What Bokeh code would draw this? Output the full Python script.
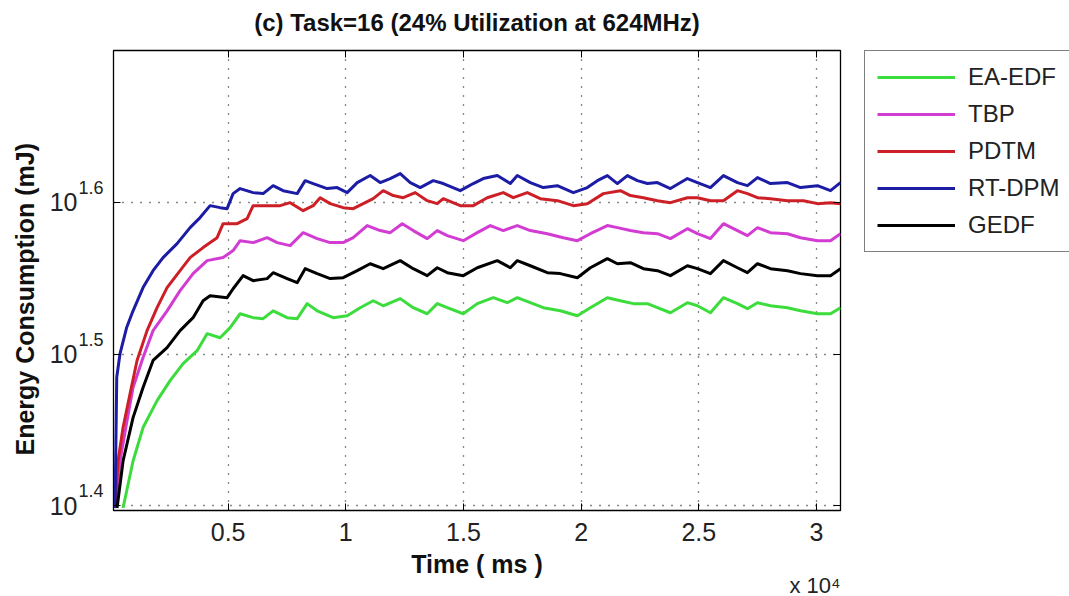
import math
from bokeh.plotting import figure
from bokeh.layouts import row
from bokeh.models import (Range1d, FixedTicker, LinearAxis, LogAxis, Legend, LegendItem,
                          Title, LogScale, CustomJSTickFormatter)
from bokeh.embed import file_html
from bokeh.resources import INLINE

# ---------------- data (time in ms, energy in mJ) ----------------
ea_edf_t = [536, 961, 1386, 1981, 2534, 3087, 3682, 4107, 4660, 5085, 5510, 6063, 6488, 6913, 7508,
            7934, 8359, 8784, 9464, 10059, 10612, 11165, 11590, 12313, 12865, 13460, 13886, 14311,
            14991, 15587, 16267, 16862, 17287, 17840, 18393, 19116, 19839, 20391, 21114, 21667,
            22220, 22815, 23240, 23793, 24515, 24941, 25493, 26046, 26641, 27066, 27492, 28044,
            28767, 29320, 30042, 30595, 31020]
ea_edf_e = [25.04, 26.89, 28.29, 29.47, 30.38, 31.17, 31.79, 32.62, 32.42, 32.92, 33.62, 33.42, 33.37,
            33.77, 33.42, 33.37, 34.14, 33.77, 33.42, 33.52, 33.93, 34.29, 34.03, 34.40, 33.93, 33.62,
            34.14, 33.93, 33.62, 34.14, 34.45, 34.19, 34.45, 34.19, 33.93, 33.77, 33.52, 33.93, 34.45,
            34.29, 34.14, 34.14, 33.93, 33.67, 34.19, 34.03, 33.67, 34.45, 34.14, 33.88, 34.19, 34.03,
            33.93, 33.77, 33.62, 33.62, 33.93]

tbp_t = [196, 408, 706, 961, 1386, 1811, 2406, 2959, 3512, 4107, 4787, 5212, 5510, 6063, 6658, 7083,
         7636, 8189, 8784, 9337, 9889, 10315, 10910, 11462, 11888, 12398, 12865, 13460, 13886, 14311,
         14991, 15587, 16139, 16692, 17287, 17840, 18563, 19243, 19839, 20391, 21114, 21539, 22092,
         22645, 23240, 23793, 24515, 24941, 25493, 26046, 26641, 27066, 27492, 28044, 28767, 29320,
         30042, 30595, 31020]
tbp_e = [25.04, 26.89, 28.59, 30.06, 31.46, 32.77, 33.77, 34.82, 35.73, 36.44, 36.61, 37.00, 37.56,
         37.45, 37.73, 37.45, 37.28, 38.02, 37.68, 37.45, 37.45, 37.73, 38.43, 38.14, 38.02, 38.54,
         38.14, 37.68, 38.14, 37.85, 37.56, 38.02, 38.43, 38.14, 38.43, 38.14, 37.96, 37.73, 37.56,
         37.96, 38.43, 38.31, 38.14, 38.02, 37.96, 37.68, 38.25, 37.96, 37.68, 38.54, 38.14, 37.85,
         38.31, 38.02, 37.96, 37.73, 37.56, 37.56, 37.96]

pdtm_t = [196, 323, 536, 833, 1131, 1556, 1981, 2406, 2959, 3384, 3937, 4532, 4787, 5382, 5808, 6063,
          6658, 7211, 7636, 8189, 8614, 8911, 9337, 9889, 10315, 10740, 11165, 11590, 12015, 12440,
          12950, 13460, 13886, 14141, 14864, 15417, 16012, 16692, 17117, 17713, 18265, 18988, 19669,
          20264, 20944, 21667, 22092, 22645, 23240, 23793, 24515, 24941, 25493, 26046, 26641, 27066,
          27492, 28044, 28767, 29447, 30042, 30595, 31020]
pdtm_e = [25.04, 26.89, 28.29, 29.78, 31.32, 32.77, 33.93, 34.98, 35.89, 36.61, 37.17, 37.73, 38.54,
          38.54, 38.84, 39.61, 39.61, 39.61, 39.79, 39.31, 39.61, 40.09, 39.73, 39.49, 39.43, 39.73,
          40.03, 40.52, 40.22, 40.09, 40.40, 39.91, 39.73, 40.03, 39.61, 39.61, 40.09, 40.40, 40.09,
          40.40, 40.03, 39.91, 39.61, 39.73, 40.34, 40.52, 40.22, 40.09, 39.91, 39.79, 40.09, 40.09,
          39.91, 39.91, 40.52, 40.34, 40.09, 40.03, 39.91, 39.91, 39.73, 39.79, 39.73]

rtdpm_t = [196, 268, 408, 693, 961, 1386, 1811, 2236, 2832, 3384, 3809, 4234, 4660, 4957, 5212, 5510,
           6063, 6488, 6913, 7338, 7934, 8274, 8614, 9209, 9634, 10059, 10485, 11037, 11462, 11888,
           12313, 12738, 13163, 13716, 14141, 14864, 15417, 15842, 16437, 16990, 17287, 17840, 18393,
           18988, 19669, 20264, 20689, 21114, 21539, 21964, 22390, 22815, 23240, 23793, 24515, 24941,
           25493, 26046, 26641, 27066, 27492, 28044, 28767, 29320, 30042, 30595, 31020]
rtdpm_e = [25.04, 30.53, 31.65, 32.94, 33.77, 34.98, 35.89, 36.61, 37.39, 38.31, 38.90, 39.61, 39.49,
           39.43, 40.34, 40.65, 40.40, 40.34, 40.83, 40.52, 40.34, 41.14, 40.96, 40.65, 40.71, 40.40,
           41.02, 41.46, 41.02, 41.27, 41.58, 41.02, 40.71, 41.14, 40.96, 40.52, 40.96, 41.27, 41.46,
           40.96, 41.46, 41.02, 40.71, 40.83, 40.40, 40.71, 41.14, 41.46, 40.96, 41.46, 41.14, 40.96,
           41.02, 40.65, 41.27, 41.02, 40.71, 41.46, 41.02, 40.83, 41.33, 40.96, 41.02, 40.71, 40.83,
           40.52, 41.02]

gedf_t = [281, 536, 961, 1386, 1811, 2406, 2959, 3512, 3937, 4234, 4957, 5212, 5638, 6063, 6658, 6913,
          7508, 7934, 8274, 8784, 9337, 9889, 10485, 11037, 11590, 12313, 12865, 13460, 13886, 14311,
          14991, 15587, 16437, 16990, 17287, 17840, 18563, 19116, 19839, 20391, 21114, 21539, 22092,
          22645, 23240, 23793, 24515, 24941, 25493, 26046, 26641, 27066, 27492, 28044, 28767, 29320,
          30042, 30595, 31020]
gedf_e = [25.04, 26.89, 28.72, 30.06, 31.32, 31.94, 32.77, 33.42, 34.29, 34.55, 34.45, 34.92, 35.62,
          35.35, 35.46, 35.78, 35.46, 35.24, 36.00, 35.73, 35.46, 35.51, 35.89, 36.27, 36.00, 36.44,
          36.00, 35.62, 36.05, 35.78, 35.62, 36.05, 36.44, 36.05, 36.44, 36.16, 35.78, 35.73, 35.51,
          36.05, 36.55, 36.27, 36.33, 36.00, 35.89, 35.62, 36.16, 36.00, 35.73, 36.44, 36.05, 35.78,
          36.27, 36.00, 35.89, 35.73, 35.62, 35.62, 36.00]

series_names = ["EA-EDF", "TBP", "PDTM", "RT-DPM", "GEDF"]
series_colors = ["#3ddc3d", "#d23cd2", "#cc1f26", "#1c1ca4", "#000000"]

x_tick_values = [5000, 10000, 15000, 20000, 25000, 30000]
x_tick_labels = ["0.5", "1", "1.5", "2", "2.5", "3"]
y_tick_exponents = [1.4, 1.5, 1.6]

title_text = "(c) Task=16 (24% Utilization at 624MHz)"
x_label = "Time ( ms )"
x_multiplier = "x 10\u2074"
y_label = "Energy Consumption (mJ)"

x_lo, x_hi = 130, 31020
ylog_lo, ylog_hi = 1.397, 1.7
y_lo, y_hi = 10 ** ylog_lo, 10 ** ylog_hi

FONT = "Liberation Sans"
TXT = "#222222"

p = figure(width=842, height=596, y_axis_type="log",
           x_range=Range1d(x_lo, x_hi), y_range=Range1d(y_lo, y_hi),
           output_backend="svg", toolbar_location=None,
           min_border_left=113, min_border_right=2, min_border_top=50, min_border_bottom=86)
p.background_fill_color = "white"
p.border_fill_color = "white"
p.outline_line_color = "black"
p.outline_line_width = 1.3

y_ticks = [10 ** e for e in y_tick_exponents]
blank = CustomJSTickFormatter(code="return ''")

# ---- bottom axis ----
xa = p.xaxis[0]
xa.ticker = FixedTicker(ticks=x_tick_values)
xa.major_label_overrides = {v: s for v, s in zip(x_tick_values, x_tick_labels)}
xa.major_label_text_font = FONT
xa.major_label_text_font_size = "25px"
xa.major_label_text_color = TXT
xa.major_label_standoff = 12
xa.major_tick_in = 7
xa.major_tick_out = 0
xa.minor_tick_line_color = None
xa.axis_line_color = "black"
xa.axis_label = x_label
xa.axis_label_text_font = FONT
xa.axis_label_text_font_size = "25px"
xa.axis_label_text_font_style = "bold"
xa.axis_label_text_color = "#111111"
xa.axis_label_standoff = 6

mult = Title(text=x_multiplier, align="right", offset=0, standoff=-20,
             text_font=FONT, text_font_size="22px", text_font_style="normal", text_color=TXT)
p.add_layout(mult, "below")

# ---- left axis (ticks only) ----
ya = p.yaxis[0]
ya.ticker = FixedTicker(ticks=y_ticks)
ya.formatter = blank
ya.major_label_standoff = 0
ya.major_tick_in = 7
ya.major_tick_out = 0
ya.minor_tick_line_color = None
ya.axis_line_color = "black"

# superscript exponents (range shifted so labels sit raised)
shift = 15 / 1518
p.extra_y_ranges = {"sup": Range1d(10 ** (ylog_lo - shift), 10 ** (ylog_hi - shift))}
p.extra_y_scales = {"sup": LogScale()}
sup_ax = LogAxis(y_range_name="sup", ticker=FixedTicker(ticks=y_ticks),
                 formatter=CustomJSTickFormatter(code="return Math.log10(tick).toFixed(1)"),
                 major_tick_line_color=None, minor_tick_line_color=None, axis_line_color=None,
                 major_label_standoff=4, major_label_text_font=FONT,
                 major_label_text_font_size="18px", major_label_text_color=TXT)
p.add_layout(sup_ax, "left")
base_ax = LogAxis(ticker=FixedTicker(ticks=y_ticks),
                  formatter=CustomJSTickFormatter(code="return '10'"),
                  major_tick_line_color=None, minor_tick_line_color=None, axis_line_color=None,
                  major_label_standoff=-8, major_label_text_font=FONT,
                  major_label_text_font_size="25px", major_label_text_color=TXT)
p.add_layout(base_ax, "left")
ylab = Title(text=y_label, align="left", offset=55, standoff=16,
             text_font=FONT, text_font_size="25px", text_font_style="bold", text_color="#111111")
p.add_layout(ylab, "left")

# ---- top / right tick-only axes (top one carries the chart title) ----
top_ax = LinearAxis(ticker=FixedTicker(ticks=x_tick_values), formatter=blank,
                    major_tick_in=7, major_tick_out=0, minor_tick_line_color=None,
                    axis_line_color=None, major_label_standoff=0,
                    axis_label=title_text, axis_label_standoff=15,
                    axis_label_text_font=FONT, axis_label_text_font_size="24px",
                    axis_label_text_font_style="bold", axis_label_text_color="#111111")
p.add_layout(top_ax, "above")
right_ax = LogAxis(ticker=FixedTicker(ticks=y_ticks), formatter=blank,
                   major_tick_in=7, major_tick_out=0, minor_tick_line_color=None,
                   axis_line_color=None, major_label_standoff=0)
p.add_layout(right_ax, "right")

for g in (p.xgrid[0], p.ygrid[0]):
    g.grid_line_color = "#111111"
    g.grid_line_dash = "1 8"
    g.grid_line_width = 1.3
p.ygrid[0].minor_grid_line_color = None

# ---- lines ----
data = [(ea_edf_t, ea_edf_e), (tbp_t, tbp_e), (pdtm_t, pdtm_e), (rtdpm_t, rtdpm_e), (gedf_t, gedf_e)]
for (t, e), name, col in zip(data, series_names, series_colors):
    p.line(t, e, line_color=col, line_width=3, line_join="round")

# ---- legend panel (separate figure to the right of the axes) ----
lf = figure(width=227, height=596, x_range=Range1d(0, 1), y_range=Range1d(0, 1),
            output_backend="svg", toolbar_location=None,
            min_border_left=22, min_border_top=36, min_border_right=0, min_border_bottom=0)
lf.axis.visible = False
lf.grid.visible = False
lf.outline_line_color = None
lf.background_fill_color = "white"
lf.border_fill_color = "white"
items = []
for (t, e), name, col in zip(data, series_names, series_colors):
    # same series, drawn outside this panel's visible range: only the legend key shows
    r = lf.line(t, e, line_color=col, line_width=3)
    items.append(LegendItem(label=name, renderers=[r]))
legend = Legend(items=items, location="top_left", orientation="vertical",
                label_text_font=FONT, label_text_font_size="24px", label_text_color=TXT,
                glyph_width=78, glyph_height=28, label_height=28, label_standoff=13,
                spacing=9, padding=12, margin=0,
                border_line_color="black", border_line_width=1.3,
                background_fill_color="white", background_fill_alpha=1.0)
lf.add_layout(legend, "center")

layout = row(p, lf, spacing=0)
open("out.html", "w").write(file_html(layout, INLINE))
